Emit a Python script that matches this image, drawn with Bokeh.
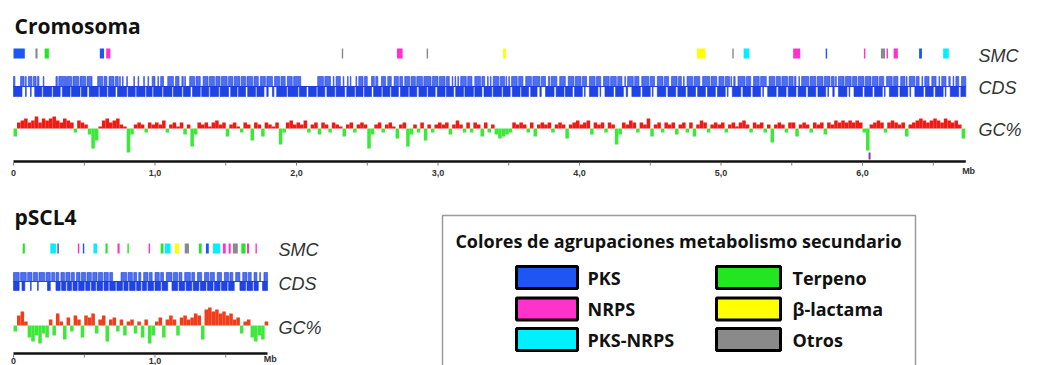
from bokeh.plotting import figure
from bokeh.models import Range1d
from bokeh.core.properties import value
from bokeh.embed import file_html
from bokeh.resources import INLINE

# ---------------- data ----------------
categories = ["PKS", "NRPS", "PKS-NRPS", "Terpeno", "β-lactama", "Otros"]
cat_colors = ["#1f55f5", "#ff33cc", "#00f0ff", "#22e622", "#ffff00", "#8a8a8a"]

chr_length = 6.73
pl_length = 1.795

# secondary metabolite clusters (Mb)
smc_chr_start = [0.00, 0.155, 0.22, 0.61, 0.655, 2.32, 2.71, 2.92, 3.46, 4.83, 5.08, 5.16, 5.51, 5.74, 6.01, 6.13, 6.17, 6.22, 6.40, 6.57]
smc_chr_end = [0.08, 0.17, 0.25, 0.64, 0.685, 2.33, 2.75, 2.93, 3.48, 4.89, 5.09, 5.20, 5.56, 5.75, 6.02, 6.16, 6.18, 6.25, 6.42, 6.61]
smc_chr_type = ["PKS", "Otros", "Terpeno", "PKS", "NRPS", "Otros", "NRPS", "Otros", "β-lactama", "β-lactama",
                "Otros", "PKS-NRPS", "NRPS", "PKS", "NRPS", "Otros", "NRPS", "NRPS", "PKS", "PKS-NRPS"]

smc_pl_start = [0.065, 0.26, 0.31, 0.455, 0.49, 0.565, 0.65, 0.735, 0.805, 0.955, 1.04, 1.07, 1.14, 1.21, 1.31, 1.36, 1.41, 1.48, 1.52, 1.55, 1.61, 1.65, 1.71]
smc_pl_end = [0.08, 0.30, 0.32, 0.465, 0.50, 0.59, 0.665, 0.75, 0.815, 0.965, 1.06, 1.11, 1.17, 1.24, 1.33, 1.38, 1.46, 1.50, 1.535, 1.585, 1.64, 1.665, 1.72]
smc_pl_type = ["Terpeno", "PKS-NRPS", "PKS", "NRPS", "PKS", "PKS-NRPS", "Terpeno", "NRPS", "Terpeno", "NRPS",
               "Terpeno", "PKS-NRPS", "β-lactama", "Otros", "Terpeno", "PKS", "PKS-NRPS", "NRPS", "NRPS", "Otros",
               "Terpeno", "NRPS", "NRPS"]

# CDS blocks, forward strand (upper row) and reverse strand (lower row), Mb
cds_chr_fwd_start = [0.00, 0.05, 0.085, 0.105, 0.14, 0.17, 0.21, 0.30, 0.32, 0.375, 0.42, 0.47, 0.52, 0.595, 0.64, 0.675, 0.72, 0.75, 0.77, 0.80, 0.85, 0.88, 0.92, 0.95, 0.98, 1.02, 1.04, 1.09, 1.145, 1.19, 1.21, 1.245, 1.29, 1.34, 1.385, 1.43, 1.47, 1.52, 1.56, 1.61, 1.65, 1.70, 1.745, 1.79, 1.845, 1.89, 1.935, 1.98, 2.15, 2.20, 2.26, 2.28, 2.33, 2.36, 2.38, 2.42, 2.44, 2.48, 2.53, 2.56, 2.60, 2.645, 2.69, 2.73, 2.765, 2.81, 2.85, 2.90, 2.96, 3.01, 3.06, 3.10, 3.12, 3.14, 3.16, 3.21, 3.26, 3.31, 3.35, 3.37, 3.39, 3.44, 3.48, 3.50, 3.52, 3.57, 3.62, 3.67, 3.73, 3.78, 3.80, 3.86, 3.92, 3.97, 4.02, 4.07, 4.12, 4.17, 4.22, 4.27, 4.32, 4.34, 4.39, 4.44, 4.50, 4.55, 4.60, 4.65, 4.70, 4.735, 4.76, 4.81, 4.87, 4.93, 4.985, 5.03, 5.07, 5.09, 5.12, 5.18, 5.23, 5.28, 5.34, 5.39, 5.43, 5.48, 5.52, 5.55, 5.57, 5.63, 5.68, 5.73, 5.78, 5.81, 5.83, 5.88, 5.93, 5.97, 6.02, 6.07, 6.12, 6.17, 6.22, 6.27, 6.31, 6.33, 6.38, 6.42, 6.44, 6.49, 6.54, 6.56, 6.61, 6.64, 6.66, 6.70]
cds_chr_fwd_end = [0.01, 0.075, 0.09, 0.13, 0.16, 0.18, 0.215, 0.31, 0.37, 0.41, 0.46, 0.51, 0.555, 0.63, 0.66, 0.71, 0.74, 0.755, 0.775, 0.805, 0.855, 0.885, 0.925, 0.955, 1.00, 1.025, 1.06, 1.13, 1.17, 1.20, 1.215, 1.28, 1.32, 1.375, 1.42, 1.46, 1.51, 1.55, 1.60, 1.64, 1.69, 1.73, 1.78, 1.83, 1.88, 1.92, 1.97, 2.03, 2.19, 2.24, 2.265, 2.31, 2.335, 2.365, 2.385, 2.425, 2.47, 2.50, 2.55, 2.575, 2.63, 2.67, 2.72, 2.75, 2.80, 2.84, 2.89, 2.95, 3.00, 3.05, 3.08, 3.105, 3.125, 3.145, 3.20, 3.24, 3.30, 3.33, 3.355, 3.375, 3.43, 3.47, 3.485, 3.505, 3.56, 3.60, 3.66, 3.72, 3.76, 3.79, 3.84, 3.90, 3.96, 4.01, 4.05, 4.11, 4.15, 4.21, 4.26, 4.30, 4.325, 4.38, 4.42, 4.49, 4.53, 4.59, 4.63, 4.69, 4.72, 4.74, 4.80, 4.85, 4.92, 4.97, 5.02, 5.06, 5.075, 5.10, 5.17, 5.21, 5.27, 5.32, 5.38, 5.42, 5.47, 5.51, 5.53, 5.555, 5.62, 5.67, 5.72, 5.77, 5.80, 5.815, 5.87, 5.92, 5.96, 6.01, 6.06, 6.11, 6.15, 6.21, 6.25, 6.30, 6.315, 6.37, 6.40, 6.425, 6.47, 6.52, 6.545, 6.59, 6.62, 6.645, 6.68, 6.73]

cds_chr_rev_start = [0.00, 0.085, 0.12, 0.15, 0.21, 0.28, 0.345, 0.41, 0.48, 0.535, 0.61, 0.67, 0.735, 0.81, 0.87, 0.94, 0.99, 1.06, 1.13, 1.20, 1.265, 1.33, 1.39, 1.46, 1.535, 1.59, 1.655, 1.72, 1.79, 1.83, 1.86, 1.94, 2.02, 2.085, 2.15, 2.215, 2.28, 2.355, 2.42, 2.48, 2.545, 2.61, 2.67, 2.735, 2.80, 2.865, 2.93, 2.995, 3.06, 3.125, 3.19, 3.26, 3.325, 3.39, 3.46, 3.525, 3.59, 3.655, 3.72, 3.76, 3.835, 3.90, 3.965, 4.035, 4.07, 4.145, 4.18, 4.255, 4.33, 4.37, 4.445, 4.515, 4.55, 4.625, 4.695, 4.765, 4.835, 4.905, 4.975, 5.045, 5.08, 5.155, 5.225, 5.295, 5.33, 5.405, 5.475, 5.545, 5.615, 5.685, 5.755, 5.79, 5.83, 5.905, 5.94, 6.015, 6.085, 6.155, 6.19, 6.265, 6.335, 6.37, 6.445, 6.515, 6.585, 6.62, 6.695]
cds_chr_rev_end = [0.06, 0.09, 0.125, 0.20, 0.27, 0.33, 0.40, 0.47, 0.52, 0.60, 0.66, 0.72, 0.80, 0.86, 0.93, 0.98, 1.05, 1.12, 1.19, 1.25, 1.32, 1.38, 1.45, 1.52, 1.58, 1.64, 1.71, 1.77, 1.80, 1.84, 1.93, 2.01, 2.07, 2.14, 2.20, 2.27, 2.34, 2.41, 2.47, 2.53, 2.60, 2.66, 2.72, 2.79, 2.85, 2.92, 2.98, 3.05, 3.11, 3.18, 3.25, 3.31, 3.38, 3.45, 3.51, 3.58, 3.64, 3.70, 3.73, 3.82, 3.89, 3.95, 4.02, 4.04, 4.13, 4.15, 4.24, 4.31, 4.34, 4.43, 4.50, 4.52, 4.61, 4.68, 4.75, 4.82, 4.89, 4.96, 5.03, 5.05, 5.14, 5.21, 5.28, 5.30, 5.39, 5.46, 5.53, 5.60, 5.67, 5.74, 5.76, 5.80, 5.89, 5.91, 6.00, 6.07, 6.14, 6.16, 6.25, 6.32, 6.34, 6.43, 6.50, 6.57, 6.59, 6.68, 6.73]

cds_pl_fwd_start = [0.00, 0.05, 0.10, 0.14, 0.18, 0.23, 0.27, 0.30, 0.335, 0.37, 0.41, 0.445, 0.48, 0.52, 0.56, 0.60, 0.64, 0.68, 0.76, 0.81, 0.85, 0.885, 0.92, 0.96, 1.00, 1.04, 1.08, 1.13, 1.17, 1.21, 1.26, 1.30, 1.35, 1.39, 1.44, 1.49, 1.53, 1.57, 1.62, 1.66, 1.70, 1.74, 1.77]
cds_pl_fwd_end = [0.04, 0.09, 0.13, 0.17, 0.22, 0.26, 0.29, 0.32, 0.36, 0.40, 0.43, 0.47, 0.51, 0.55, 0.59, 0.63, 0.67, 0.70, 0.80, 0.84, 0.87, 0.90, 0.95, 0.98, 1.03, 1.06, 1.12, 1.16, 1.19, 1.25, 1.28, 1.33, 1.38, 1.42, 1.47, 1.52, 1.55, 1.60, 1.65, 1.68, 1.72, 1.745, 1.795]
cds_pl_rev_start = [0.00, 0.06, 0.12, 0.17, 0.24, 0.30, 0.34, 0.38, 0.42, 0.46, 0.51, 0.55, 0.59, 0.64, 0.68, 0.73, 0.78, 0.82, 0.87, 0.91, 0.95, 1.00, 1.05, 1.12, 1.17, 1.22, 1.27, 1.32, 1.37, 1.42, 1.47, 1.52, 1.60, 1.65, 1.70, 1.76]
cds_pl_rev_end = [0.04, 0.08, 0.125, 0.175, 0.26, 0.33, 0.37, 0.41, 0.45, 0.50, 0.54, 0.58, 0.63, 0.67, 0.72, 0.77, 0.81, 0.86, 0.90, 0.94, 0.99, 1.04, 1.09, 1.16, 1.21, 1.26, 1.31, 1.36, 1.41, 1.46, 1.51, 1.56, 1.64, 1.69, 1.73, 1.795]

# GC% deviation from the mean, one value per 25 kb window
gc_step = 0.025
gc_chr = [
    -4, 3, 4, 5, 3, 4, 6, 3, 5, 4,
    5, 6, 4, 3, 5, 4, 3, -2, 4, 3,
    2, -3, -10, -6, 1, 4, 5, 3, 4, 5,
    2, 1, -12, -3, 2, 3, 2, -2, 3, 2,
    3, 2, 4, -2, 2, 3, 1, 3, -3, 2,
    -9, -3, 3, 2, 3, 1, 3, 4, 2, 3,
    -4, 2, 3, 1, -2, 3, 2, -6, 3, 2,
    -4, 3, 2, 1, 3, -8, -2, 3, 4, 2,
    3, 2, 4, -2, 2, 3, -3, 3, 2, -2,
    3, 2, 1, -4, 2, 3, -2, 2, 3, 2,
    -10, -3, 2, 3, -2, 2, 3, 1, -5, 2,
    3, -9, -3, 2, -2, 3, -6, 2, -2, 2,
    3, 2, 3, -3, 2, 4, 2, -2, 3, -2,
    3, 2, -4, 3, -2, 2, -3, -5, -4, -3,
    -2, 3, 2, 3, 2, -2, 3, -4, 2, 3,
    2, 3, -2, 2, 3, 2, -5, 2, 3, 4,
    2, 3, 4, -3, 3, 2, 3, -2, 3, 2,
    -8, -3, 3, 2, 4, 3, -2, 3, 2, 5,
    -4, 2, 3, -2, 3, 2, 3, -3, 2, 3,
    -2, 3, -4, 2, 4, 3, -2, 2, 3, 2,
    3, -2, 2, 3, 1, 3, 4, 2, -2, 3,
    2, 3, -2, 2, -7, 2, 3, 2, -2, 3,
    3, -4, 2, 3, 2, -2, 3, 2, 3, -3,
    3, 2, 4, 3, 4, 3, 4, 3, 4, 3,
    -2, -11, 2, 3, 4, 3, -2, 3, 4, 3,
    2, 3, -4, 2, 3, 4, 5, 4, 3, 4,
    5, 4, 3, 5, 4, 3, 4, 2, -5,
]
gc_pl = [
    -3, 5, 7, 2, -6, -8, -5, -9, -4, -6,
    3, -5, 6, 2, -7, 4, -3, 5, 3, -6,
    5, 4, 6, -4, 3, 5, -8, 3, 4, -3,
    3, -5, 2, 3, -4, 2, -6, 3, -9, -5,
    2, 4, -6, 3, 5, 3, -5, 4, 5, 3,
    4, 6, 5, -7, 8, 9, 7, 8, 6, 7,
    5, 6, 3, 4, -4, 2, 3, -6, -8, -5,
    -7, 2,
]

ori_chr = [6.05]

chr_ticks = [0, 1, 2, 3, 4, 5, 6]
chr_tick_labels = ["0", "1,0", "2,0", "3,0", "4,0", "5,0", "6,0"]
chr_minor = [0.5, 1.5, 2.5, 3.5, 4.5, 5.5, 6.5]
pl_ticks = [0, 1]
pl_tick_labels = ["0", "1,0"]
pl_minor = [0.5, 1.5]

# ---------------- layout ----------------
W, H = 1037, 365
PX_PER_MB = 141.5
X0 = 13           # page x of 0 Mb
FONT = value("Open Sans")
ITAL = value("Liberation Sans")

p = figure(width=W, height=H, output_backend="svg", toolbar_location=None,
           x_range=Range1d(-X0 / PX_PER_MB, (W - X0) / PX_PER_MB),
           y_range=Range1d(H, 0), min_border=0)
p.min_border_left = p.min_border_right = p.min_border_top = p.min_border_bottom = 0
p.axis.visible = False
p.grid.visible = False
p.outline_line_color = None
p.background_fill_color = "white"
p.border_fill_color = "white"

p.extra_x_ranges = {"px": Range1d(0, W)}


def gc_range(base, k=2.0):
    return Range1d((base - H) / k, base / k)


cmap = dict(zip(categories, cat_colors))

tracks = [
    dict(name="Cromosoma", title_y=25, smc=(smc_chr_start, smc_chr_end, smc_chr_type), smc_y=(48, 58),
         fwd=(cds_chr_fwd_start, cds_chr_fwd_end), rev=(cds_chr_rev_start, cds_chr_rev_end),
         cds_y=(76, 86, 96), gc=gc_chr, gc_base=128, gc_red="#ee1a14", axis_y=161, length=chr_length,
         ticks=chr_ticks, tick_labels=chr_tick_labels, minor=chr_minor, label_x=978,
         label_y=(55, 87, 129), rng="gc_chr", lab_dy=11),
    dict(name="pSCL4", title_y=216, smc=(smc_pl_start, smc_pl_end, smc_pl_type), smc_y=(243, 253),
         fwd=(cds_pl_fwd_start, cds_pl_fwd_end), rev=(cds_pl_rev_start, cds_pl_rev_end),
         cds_y=(272, 281, 290), gc=gc_pl, gc_base=325, gc_red="#f23c1a", axis_y=353, length=pl_length,
         ticks=pl_ticks, tick_labels=pl_tick_labels, minor=pl_minor, label_x=278,
         label_y=(249, 283, 327), rng="gc_pl", lab_dy=7),
]

for t in tracks:
    p.extra_y_ranges[t["rng"]] = gc_range(t["gc_base"])

for t in tracks:
    # title
    p.text(x=[X0 + 1], y=[t["title_y"]], text=[t["name"]], x_range_name="px",
           text_font=FONT, text_font_style="bold", text_font_size="21px",
           text_color="#111111", text_baseline="middle", text_align="left")
    # SMC
    s, e, ty = t["smc"]
    p.quad(left=s, right=e, top=t["smc_y"][0], bottom=t["smc_y"][1],
           fill_color=[cmap[c] for c in ty], line_color=None)
    # CDS
    yt, ym, yb = t["cds_y"]
    p.segment(x0=[0], x1=[t["length"]], y0=[ym], y1=[ym], line_color="#2a4ae8", line_width=1)
    p.quad(left=t["fwd"][0], right=t["fwd"][1], top=yt, bottom=ym,
           fill_color="#3a60ee", fill_alpha=0.9, line_color="#2040e0", line_width=0.6)
    p.quad(left=t["rev"][0], right=t["rev"][1], top=ym, bottom=yb,
           fill_color="#1f44e6", line_color="#1a38dc", line_width=0.6)
    # GC%
    n = len(t["gc"])
    xs = [gc_step * i + gc_step / 2 for i in range(n)]
    cols = [t["gc_red"] if v > 0 else "#3ee83a" for v in t["gc"]]
    p.vbar(x=xs, width=gc_step, top=t["gc"], bottom=0, fill_color=cols, line_color=None,
           y_range_name=t["rng"])
    # axis
    ay = t["axis_y"]
    p.segment(x0=[0], x1=[t["length"]], y0=[ay], y1=[ay], line_color="#111111", line_width=2.5)
    allt = t["ticks"] + t["minor"]
    p.segment(x0=allt, x1=allt, y0=[ay + 1] * len(allt), y1=[ay + 4] * len(allt),
              line_color="#777777", line_width=1)
    p.text(x=t["ticks"], y=[ay + t["lab_dy"]] * len(t["ticks"]), text=t["tick_labels"],
           text_font=value("Liberation Sans"), text_font_style="bold", text_font_size="9px",
           text_color="#333333", text_baseline="middle", text_align="center")
    p.text(x=[t["length"] + 0.02], y=[ay + t["lab_dy"] - 2], text=["Mb"],
           text_font=value("Liberation Sans"), text_font_style="bold", text_font_size="9px",
           text_color="#333333", text_baseline="middle", text_align="center")
    # row labels
    p.text(x=[t["label_x"]] * 3, y=list(t["label_y"]), text=["SMC", "CDS", "GC%"], x_range_name="px",
           text_font=ITAL, text_font_style="italic", text_font_size="18px",
           text_color="#333333", text_baseline="middle", text_align="left")

# origin mark
p.segment(x0=ori_chr, x1=ori_chr, y0=[152] * len(ori_chr), y1=[159] * len(ori_chr),
          line_color="#8a3aa8", line_width=2)

# ---------------- legend ----------------
p.quad(left=[442], right=[915], top=[215], bottom=[420], x_range_name="px",
       fill_color="white", line_color="#9a9a9a", line_width=1.5)
p.text(x=[678], y=[240], text=["Colores de agrupaciones metabolismo secundario"], x_range_name="px",
       text_font=FONT, text_font_style="bold", text_font_size="18px", text_color="#111111",
       text_baseline="middle", text_align="center")
sw_left = [516, 716]
sw_w = [61, 64]
lab_x = [587, 792]
row_y = [277, 308.5, 339]
for i, (cat, col) in enumerate(zip(categories, cat_colors)):
    c, r = i // 3, i % 3
    p.quad(left=[sw_left[c]], right=[sw_left[c] + sw_w[c]], top=[row_y[r] - 11], bottom=[row_y[r] + 11],
           x_range_name="px", fill_color=col, line_color="#000000", line_width=3)
    p.text(x=[lab_x[c]], y=[row_y[r]], text=[cat], x_range_name="px",
           text_font=FONT, text_font_style="bold", text_font_size="18px", text_color="#111111",
           text_baseline="middle", text_align="left")

open("out.html", "w").write(file_html(p, INLINE))
